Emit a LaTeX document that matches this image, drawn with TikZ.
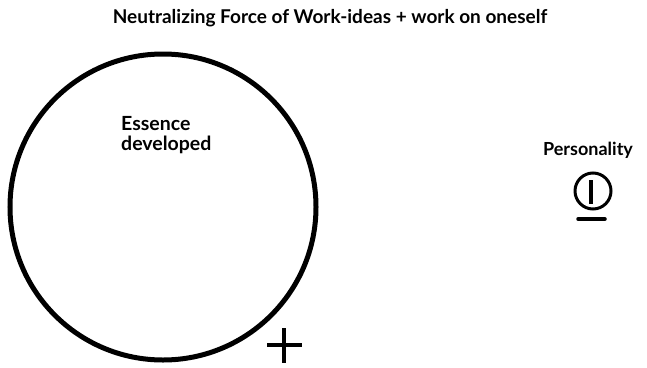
\documentclass[tikz,border=0pt]{standalone}
\usepackage{fontspec}
\setmainfont{Lato}

\begin{document}
\begin{tikzpicture}[x=1pt,y=-1pt,
	label/.style={font=\bfseries\fontsize{18}{19}\selectfont, inner sep=0pt, align=left},
	thick line/.style={line width=5pt}]
	\useasboundingbox (0,0) rectangle (647,367);

	% Draw the title at the top
	\node (title) at (330,18) [label, font=\bfseries\fontsize{19}{20}\selectfont] {Neutralizing Force of Work-ideas + work on oneself};

	% Then the big circle and its labels
	\draw [thick line] (163,207) circle [radius=153];
	\node (essence) at (121,135) [label, anchor=west, font=\bfseries\fontsize{19.5}{20}\selectfont] {Essence\\developed};
	\draw [line width=3.5pt] (267,345) -- (302,345);
	\draw [line width=3.5pt] (284,328) -- (284,363);

	% Now add the personality sign
	\node (personality) at (588,150) [label] {Personality};
	\draw [line width=3pt] (593,191) circle [radius=18];
	\draw [line width=3.5pt] (591,180) -- (591,204);
	\draw [line width=3.5pt, line cap=round] (578,219) -- (605,219);
\end{tikzpicture}
\end{document}
